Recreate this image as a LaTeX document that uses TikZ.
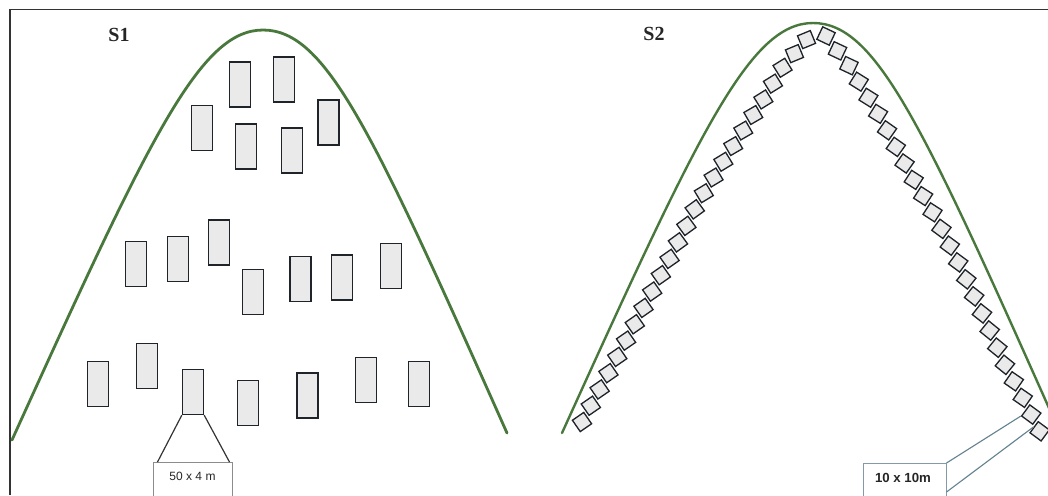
\documentclass[tikz,border=0pt]{standalone}
\usepackage{fontspec}
\setmainfont{Liberation Serif}
\newfontfamily\arialfont{Liberation Sans}
\usetikzlibrary{decorations.markings}
\definecolor{hill}{RGB}{72,120,60}
\definecolor{rfill}{RGB}{234,234,234}
\definecolor{rline}{RGB}{30,36,42}
\definecolor{cline}{RGB}{100,130,145}
\begin{document}
% unit: 1 reference pixel = 0.25pt
\begin{tikzpicture}[x=0.25pt,y=-0.25pt,
  frameline/.style={draw=black!80, line width=0.35pt},
  hillline/.style={draw=hill, line width=0.7pt, line cap=round},
  plotrect/.style={draw=rline, fill=rfill, line width=0.36pt, minimum width=5.25pt, minimum height=11.25pt, inner sep=0pt},
  sq/.style={draw=rline, fill=rfill, line width=0.33pt, minimum size=3.45pt, inner sep=0pt, transform shape},
  calbox/.style={draw=black!45, fill=white, line width=0.25pt, inner sep=0pt},
  caltext/.style={font=\arialfont\fontsize{3}{3.5}\selectfont, text=black!85, inner sep=0pt},
  sitelabel/.style={font=\bfseries\fontsize{5}{6}\selectfont, text=black!85, inner sep=0pt}
]
\useasboundingbox (0,0) rectangle (1048,495);
\begin{scope}
\clip (0,0) rectangle (1048,495);
% frame
\draw[frameline] (9,9.5) -- (1048,9.5);
\draw[frameline] (10,9) -- (10,495);

% ---------- S1 ----------
\node[sitelabel] (s1) at (119,35) {S1};
\draw[hillline] (12,440) .. controls (150,136) and (200,30) .. (263,30)
                .. controls (326,30) and (372,130) .. (507,433);

\node[plotrect] (r1) at (240,84.5) {};
\node[plotrect] (r2) at (284,79.5) {};
\node[plotrect] (r3) at (202,128) {};
\node[plotrect] (r4) at (246,146.5) {};
\node[plotrect] (r5) at (292,150.5) {};
\node[plotrect] (r6) at (328.5,122.5) {};
\node[plotrect] (r7) at (136,264) {};
\node[plotrect] (r8) at (178,259) {};
\node[plotrect] (r9) at (219,242.5) {};
\node[plotrect] (r10) at (253,292) {};
\node[plotrect] (r11) at (300.5,279) {};
\node[plotrect] (r12) at (342,277.5) {};
\node[plotrect] (r13) at (391,266) {};
\node[plotrect] (r14) at (98,384) {};
\node[plotrect] (r15) at (147,366) {};
\node[plotrect] (r16) at (193,392) {};
\node[plotrect] (r17) at (248,403) {};
\node[plotrect] (r18) at (307.5,395.5) {};
\node[plotrect] (r19) at (366,380) {};
\node[plotrect] (r20) at (419,384) {};

\node[calbox, minimum width=19.75pt, minimum height=10pt, anchor=north] (c1) at (192.5,462) {};
\node[caltext] (t1) at (192.5,476) {50 x 4 m};
\draw[draw=black!80, line width=0.3pt] (r16.south west) -- ([xshift=1.25pt]c1.north west);
\draw[draw=black!80, line width=0.3pt] (r16.south east) -- ([xshift=-0.75pt]c1.north east);

% ---------- S2 ----------
\node[sitelabel] (s2) at (654,34) {S2};
\begin{scope}[shift={(550,-7)}]
\draw[hillline, line width=0.6pt] (12,440) .. controls (150,136) and (200,30) .. (263,30)
                .. controls (326,30) and (372,130) .. (507,433);
\end{scope}

% left chain of squares
\path[decorate, decoration={markings,
  mark=between positions 0 and 1 step 0.0416 with {\node[sq, rotate=-27, name={L\pgfkeysvalueof{/pgf/decoration/mark info/sequence number}}] {};}}]
  (582,422) -- (628,337) -- (670,258) -- (699,201) -- (730,151) -- (763,100) -- (783,67) -- (807,39);
% right chain of squares
\path[decorate, decoration={markings,
  mark=between positions 0 and 1 step 0.0416 with {\node[sq, rotate=27, name={R\pgfkeysvalueof{/pgf/decoration/mark info/sequence number}}] {};}}]
  (826,36) -- (850,67) -- (880,117) -- (908,170) -- (937,220) -- (962,270) -- (985,320) -- (1005,365) -- (1025,402) -- (1040,432);

\node[calbox, draw=cline!80, minimum width=20.75pt, minimum height=10pt, anchor=north] (c2) at (904.5,463) {};
\node[caltext, font=\arialfont\bfseries\fontsize{3.3}{3.8}\selectfont] (t2) at (903,478) {10 x 10m};
\draw[draw=cline, line width=0.28pt] (c2.north east) -- (R24.south west);
\draw[draw=cline, line width=0.28pt] ([yshift=-7.25pt]c2.north east) -- (R25.west);
\end{scope}
\end{tikzpicture}
\end{document}
